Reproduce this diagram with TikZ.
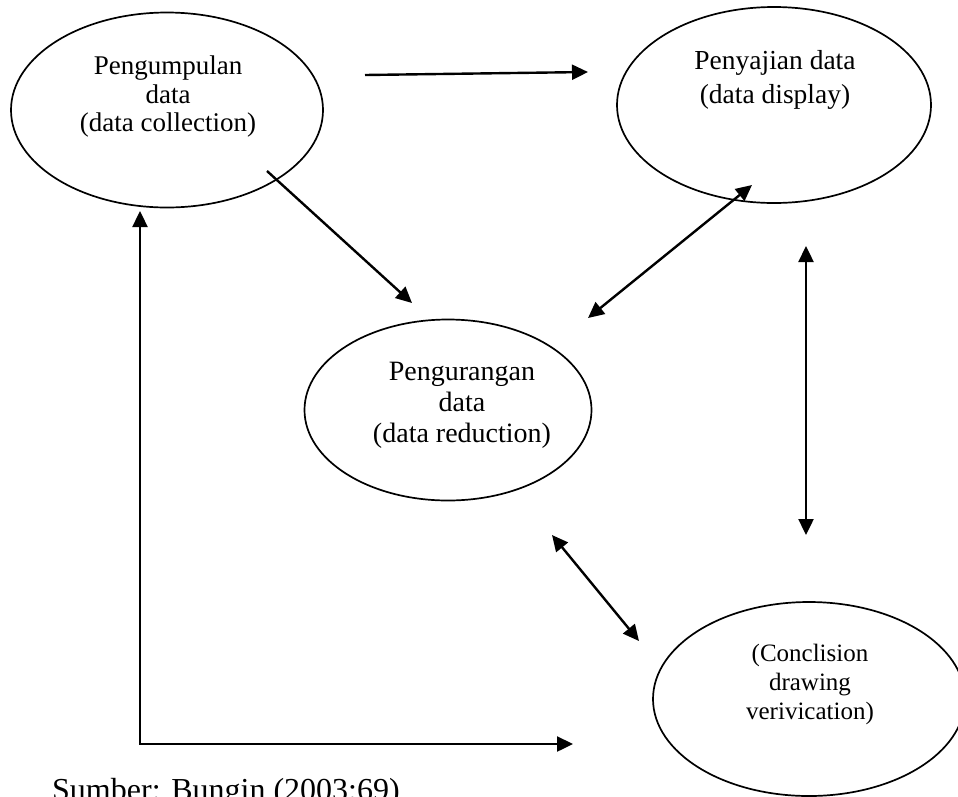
\documentclass[tikz,border=0pt]{standalone}
\usepackage{fontspec}
\setmainfont{Liberation Serif}
\usetikzlibrary{shapes.geometric,arrows.meta}
\begin{document}
\begin{tikzpicture}[x=1pt,y=-1pt,
  stage/.style={draw, ellipse, line width=1.7pt, inner sep=0pt},
  caption/.style={align=center, inner sep=0pt, font=\fontsize{27}{30}\selectfont},
  flow/.style={line width=2.4pt, -{Triangle[length=16pt,width=15pt]}},
  both/.style={line width=2.4pt, {Triangle[length=16pt,width=15pt]}-{Triangle[length=16pt,width=15pt]}}]
\clip (0,0) rectangle (958,796);

% the four stages of the analysis
\node[stage, minimum width=312pt, minimum height=195pt] (collect) at (167,110) {};
\node[stage, minimum width=314pt, minimum height=196pt] (display) at (774,105) {};
\node[stage, minimum width=287pt, minimum height=181pt] (reduce)  at (448,410) {};
\node[stage, minimum width=312pt, minimum height=194pt] (conclude) at (809,699) {};

\node[caption, font=\fontsize{27}{28.5}\selectfont] (collect-t) at (168,97) {Pengumpulan\\data\\(data collection)};
\node[caption, font=\fontsize{27.5}{34}\selectfont] (display-t) at (775,80) {Penyajian data\\(data display)};
\node[caption, font=\fontsize{28}{31}\selectfont] (reduce-t) at (462,405) {Pengurangan\\data\\(data reduction)};
\node[caption, font=\fontsize{25}{29}\selectfont] (conclude-t) at (810,684) {(Conclision\\drawing\\verivication)};

% connector end points
\coordinate (c1a) at (365,75);  \coordinate (c1b) at (588,72);
\coordinate (c2a) at (267,171); \coordinate (c2b) at (412,303);
\coordinate (c3a) at (588,318); \coordinate (c3b) at (752,185);
\coordinate (c4a) at (806,246); \coordinate (c4b) at (806,535);
\coordinate (c5a) at (140,211); \coordinate (c5b) at (573,744);
\coordinate (c6a) at (552,535); \coordinate (c6b) at (639,641);

\draw[flow] (c1a) -- (c1b);
\draw[flow] (c2a) -- (c2b);
\draw[both] (c3a) -- (c3b);
\draw[both] (c4a) -- (c4b);
\draw[both] (c5a) |- (c5b);
\draw[both] (c6a) -- (c6b);

% source line, running off the lower edge
\node[anchor=base west, inner sep=0pt, font=\fontsize{32}{36}\selectfont] (source) at (52,800) {Sumber: Bungin (2003:69)};
\end{tikzpicture}
\end{document}
